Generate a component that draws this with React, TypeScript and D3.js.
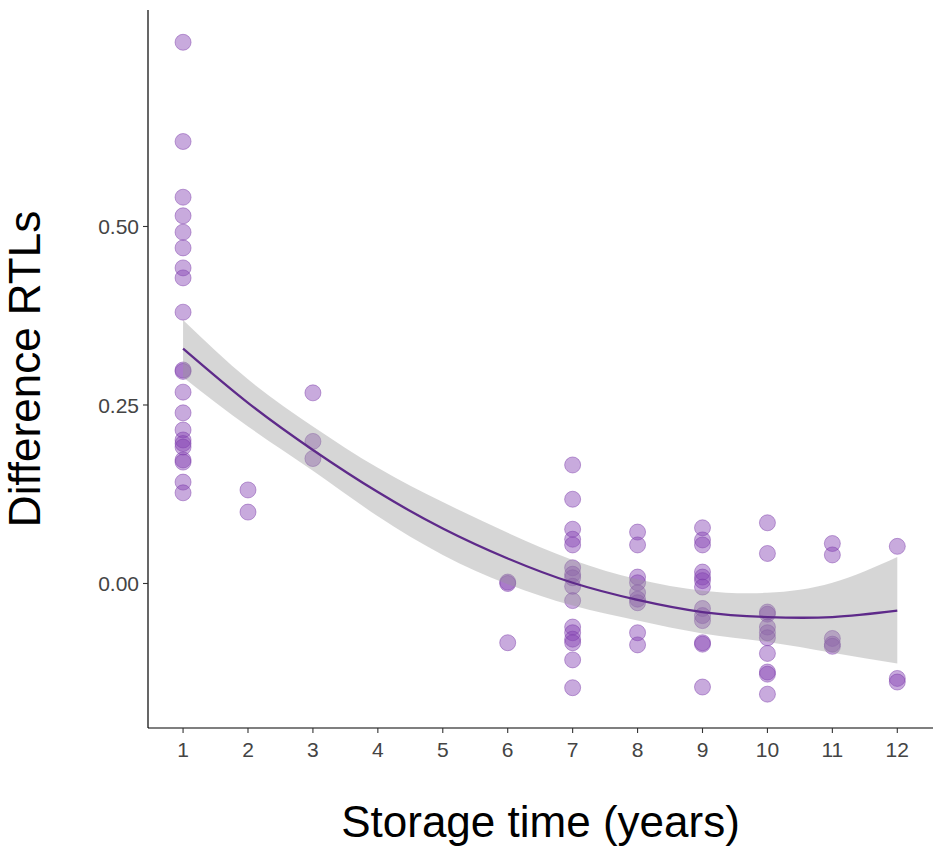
import * as d3 from "d3";

// storage years that have measurements
const storageYears = [1, 2, 3, 6, 7, 8, 9, 10, 11, 12];

// difference in RTLs per storage year
const rtlYear1 = [0.758, 0.619, 0.541, 0.515, 0.492, 0.47, 0.442, 0.428, 0.38, 0.299, 0.297, 0.268, 0.239, 0.215, 0.201, 0.196, 0.191, 0.173, 0.17, 0.142, 0.127];
const rtlYear2 = [0.131, 0.1];
const rtlYear3 = [0.267, 0.199, 0.175];
const rtlYear6 = [0.002, 0.0, -0.083];
const rtlYear7 = [0.166, 0.118, 0.076, 0.062, 0.054, 0.022, 0.013, 0.008, -0.004, -0.024, -0.061, -0.069, -0.078, -0.083, -0.107, -0.146];
const rtlYear8 = [0.072, 0.054, 0.009, 0.001, -0.013, -0.022, -0.027, -0.069, -0.086];
const rtlYear9 = [0.078, 0.061, 0.054, 0.016, 0.009, 0.004, -0.005, -0.035, -0.045, -0.052, -0.083, -0.085, -0.145];
const rtlYear10 = [0.085, 0.042, -0.04, -0.043, -0.061, -0.069, -0.076, -0.098, -0.124, -0.127, -0.155];
const rtlYear11 = [0.056, 0.04, -0.077, -0.085, -0.088];
const rtlYear12 = [0.052, -0.133, -0.138];
const rtlByYear = [rtlYear1, rtlYear2, rtlYear3, rtlYear6, rtlYear7, rtlYear8, rtlYear9, rtlYear10, rtlYear11, rtlYear12];

// fitted curve and its confidence band
const fitYears = [1, 2, 3, 4, 5, 6, 7, 8, 9, 10, 11, 12];
const fitValues = [0.329, 0.253, 0.187, 0.128, 0.077, 0.035, 0.001, -0.023, -0.04, -0.047, -0.047, -0.038];
const fitUpper = [0.369, 0.286, 0.22, 0.162, 0.114, 0.071, 0.033, 0.006, -0.01, -0.013, 0.001, 0.037];
const fitLower = [0.289, 0.22, 0.158, 0.094, 0.04, -0.001, -0.031, -0.052, -0.07, -0.082, -0.097, -0.112];

const xTickValues = [1, 2, 3, 4, 5, 6, 7, 8, 9, 10, 11, 12];
const yTickValues = [0, 0.25, 0.5];
const yTickLabels = ["0.00", "0.25", "0.50"];

export default function App() {
  const width = 933;
  const height = 849;
  const marginLeft = 148;
  const marginTop = 10;
  const marginBottom = 121;
  const plotBottom = height - marginBottom;

  const font = "'Liberation Sans', Arial, sans-serif";

  const xScale = d3.scaleLinear().domain([0.46, 12.55]).range([marginLeft, width]);
  const yScale = d3.scaleLinear().domain([-0.2024, 0.8032]).range([plotBottom, marginTop]);

  const points = storageYears.flatMap((year, i) =>
    rtlByYear[i].map((v) => ({ year, v }))
  );

  const fit = fitYears.map((year, i) => ({
    year,
    v: fitValues[i],
    hi: fitUpper[i],
    lo: fitLower[i],
  }));

  const band = d3
    .area()
    .x((d) => xScale(d.year))
    .y0((d) => yScale(d.lo))
    .y1((d) => yScale(d.hi))
    .curve(d3.curveNatural);

  const line = d3
    .line()
    .x((d) => xScale(d.year))
    .y((d) => yScale(d.v))
    .curve(d3.curveNatural);

  return (
    <div style={{ position: "absolute", left: 0, top: 0 }}>
      <svg width={width} height={height} style={{ display: "block", background: "white" }}>
        {/* Points */}
        {points.map((d, i) => (
          <circle
            key={i}
            cx={xScale(d.year)}
            cy={yScale(d.v)}
            r={8}
            fill="#8443b3"
            fillOpacity={0.45}
            stroke="#7a3aa8"
            strokeOpacity={0.45}
            strokeWidth={1}
          />
        ))}

        {/* Confidence band and fitted line */}
        <path d={band(fit)} fill="#999999" fillOpacity={0.4} />
        <path d={line(fit)} fill="none" stroke="#5e2a8a" strokeWidth={2.3} />

        {/* Y-Axis */}
        <line x1={marginLeft} x2={marginLeft} y1={marginTop} y2={plotBottom} stroke="black" strokeWidth={1.2} />
        {yTickValues.map((t, i) => (
          <g key={t} transform={`translate(${marginLeft}, ${yScale(t)})`}>
            <line x1={-5} x2={0} stroke="#333" strokeWidth={1.1} />
            <text x={-9} dy="0.36em" textAnchor="end" fontSize={21} fontFamily={font} fill="#444">
              {yTickLabels[i]}
            </text>
          </g>
        ))}

        {/* X-Axis */}
        <line x1={marginLeft} x2={width} y1={plotBottom} y2={plotBottom} stroke="black" strokeWidth={1.2} />
        {xTickValues.map((t) => (
          <g key={t} transform={`translate(${xScale(t)}, ${plotBottom})`}>
            <line y1={0} y2={5} stroke="#333" strokeWidth={1.1} />
            <text y={29} textAnchor="middle" fontSize={21} fontFamily={font} fill="#444">
              {t}
            </text>
          </g>
        ))}

        {/* Axis titles */}
        <text
          x={(marginLeft + width) / 2}
          y={837}
          textAnchor="middle"
          fontSize={44}
          fontFamily={font}
          fill="black"
        >
          Storage time (years)
        </text>
        <text
          transform={`translate(40, ${(marginTop + plotBottom) / 2}) rotate(-90)`}
          textAnchor="middle"
          fontSize={44}
          fontFamily={font}
          fill="black"
        >
          Difference RTLs
        </text>
      </svg>
    </div>
  );
}
